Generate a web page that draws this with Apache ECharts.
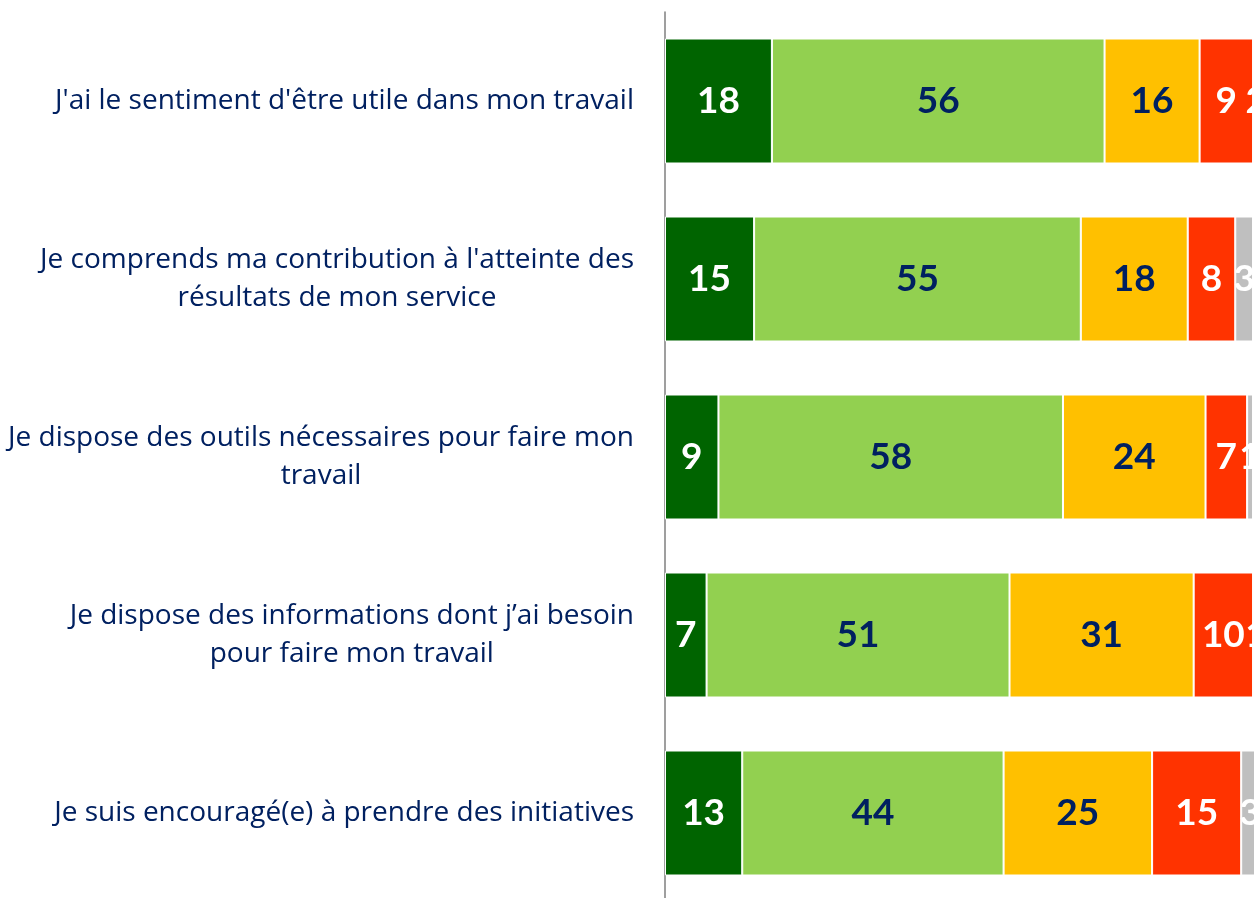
<!DOCTYPE html>
<html>
<head>
<meta charset="utf-8">
<script src="https://cdn.jsdelivr.net/npm/echarts@6/dist/echarts.min.js"></script>
<style>html,body{margin:0;padding:0;background:#fff;}#c{width:1254px;height:898px;}</style>
</head>
<body>
<div id="c"></div>
<script>
var categories = [
  "J'ai le sentiment d'être utile dans mon travail",
  "Je comprends ma contribution à l'atteinte des\nrésultats de mon service",
  "Je dispose des outils nécessaires pour faire mon\ntravail",
  "Je dispose des informations dont j’ai besoin\npour faire mon travail",
  "Je suis encouragé(e) à prendre des initiatives"
];
var seriesNames = ["Tout à fait d'accord", "Plutôt d'accord", "Plutôt pas d'accord", "Pas du tout d'accord", "Ne se prononce pas"];
var toutAFait = [18, 15, 9, 7, 13];
var plutot = [56, 55, 58, 51, 44];
var plutotPas = [16, 18, 24, 31, 25];
var pasDuTout = [9, 8, 7, 10, 15];
var nsp = [2, 3, 1, 1, 3];

var colors = ['#006400', '#92D050', '#FFC000', '#FF3300', '#BFBFBF'];
var labelColors = ['#ffffff', '#002060', '#002060', '#ffffff', '#ffffff'];
var dataSets = [toutAFait, plutot, plutotPas, pasDuTout, nsp];

var chart = echarts.init(document.getElementById('c'));
var series = dataSets.map(function (d, i) {
  return {
    name: seriesNames[i],
    type: 'bar',
    stack: 'total',
    barWidth: 125,
    data: d,
    itemStyle: { color: colors[i], borderColor: '#ffffff', borderWidth: 1 },
    label: {
      show: true,
      position: 'inside',
      color: labelColors[i],
      fontFamily: 'Lato',
      fontWeight: 'bold',
      fontSize: 37
    }
  };
});
chart.setOption({
  animation: false,
  backgroundColor: '#ffffff',
  grid: { left: 665, top: 12, width: 594, height: 890, outerBoundsMode: 'none', containLabel: false },
  xAxis: { type: 'value', min: 0, max: 100, show: false },
  yAxis: {
    type: 'category',
    inverse: true,
    data: categories,
    axisTick: { show: false },
    axisLine: { show: true, lineStyle: { color: '#7f7f7f', width: 1.5 } },
    axisLabel: {
      margin: 31,
      align: 'right',
      lineHeight: 38,
      color: '#002060',
      fontFamily: 'Open Sans',
      fontSize: 28,
      formatter: function (v) {
        return v.split('\n').map(function (l) { return '{c|' + l + '}'; }).join('\n');
      },
      rich: { c: { align: 'center', color: '#002060', fontFamily: 'Open Sans', fontSize: 28, lineHeight: 38 } }
    }
  },
  series: series
});
</script>
</body>
</html>
